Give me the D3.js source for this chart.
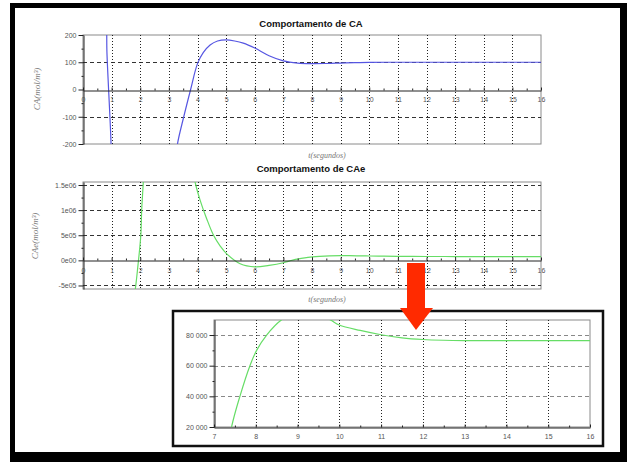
<!DOCTYPE html>
<html><head><meta charset="utf-8">
<script src="https://cdn.jsdelivr.net/npm/d3@7"></script>
<style>body{margin:0;background:#fff}svg{display:block}</style>
</head><body>
<script>
// ---- data (null = off-scale gap) ----
const caTime   = [0.828, 0.83, 0.835, 0.98, 0.99, 2.0, 3.24, 3.3, 3.52, 3.76, 4.0, 4.2, 4.44, 4.7, 5.0, 5.3, 5.6, 6.0, 6.5, 7.0, 7.5, 8.0, 8.5, 9.0, 9.5, 10, 11, 12, 13, 14, 15, 16];
const caValues = [400, 200, 140, -200, -300, null, -260, -200, -100, 0, 95, 135, 163, 178, 182, 178, 170, 152, 124, 105, 97, 95, 95.5, 97, 98.5, 99.5, 100, 100, 100, 100, 100, 100];
const caeTime   = [1.75, 1.82, 1.92, 2.02, 2.05, 2.11, 2.15, 3.0, 3.86, 3.92, 4.09, 4.32, 4.56, 4.8, 5.02, 5.49, 6.01, 6.5, 7.0, 7.2, 7.42, 7.62, 7.86, 8.02, 8.26, 8.62, 9.0, 9.3, 9.78, 10.0, 10.5, 11.0, 11.5, 12, 12.5, 13, 14, 15, 16];
const caeValues = [-8e5, -6e5, -1e5, 5e5, 1e6, 1.6e6, 2.2e6, null, 1.75e6, 1.55e6, 1.2e6, 8.3e5, 5e5, 2.8e5, 1.3e5, -6.7e4, -1.3e5, -1.0e5, -4.7e4, -1.5e4, 20000, 40000, 60000, 70000, 80000, 90000, 95000, 96000, 90000, 86500, 83000, 80200, 78200, 77100, 76600, 76400, 76300, 76300, 76300];
const xTickValues = [0,1,2,3,4,5,6,7,8,9,10,11,12,13,14,15,16];
const xTickLabels = ["0","1","2","3","4","5","6","7","8","9","10","11","12","13","14","15","16"];
const caTickValues = [200, 100, 0, -100, -200];
const caTickLabels = ["200", "100", "0", "-100", "-200"];
const caeTickValues = [1.5e6, 1e6, 5e5, 0, -5e5];
const caeTickLabels = ["1.5e06", "1e06", "5e05", "0e00", "-5e05"];
const insetXValues = [7,8,9,10,11,12,13,14,15,16];
const insetXLabels = ["7","8","9","10","11","12","13","14","15","16"];
const insetYValues = [20000, 40000, 60000, 80000];
const insetYLabels = ["20 000", "40 000", "60 000", "80 000"];
const titles = ["Comportamento de CA", "Comportamento de CAe"];

// ---- drawing ----
const W = 627, H = 462;
const svg = d3.select("body").append("svg").attr("width", W).attr("height", H);
svg.append("rect").attr("width", W).attr("height", H).attr("fill", "#fff");

const FONT = "'Liberation Sans', Arial, sans-serif";
const SERIF = "'Liberation Serif', 'Times New Roman', serif";
const BLUE = "#5656e2", GREEN = "#66dd66";

function mid(arr){ const r=[]; for(let i=0;i<arr.length-1;i++) r.push((arr[i]+arr[i+1])/2); return r; }

function panel(o){
  const g = svg.append("g");
  const [x0,x1] = o.x.range(); const yb = o.frameBottom, yt = o.frameTop;
  g.append("rect").attr("x", x0).attr("y", yt).attr("width", x1-x0).attr("height", yb-yt)
    .attr("fill","none").attr("stroke", "#8a8a8a").attr("stroke-width",1);
  g.selectAll(".hg").data(o.hGrid).join("line")
    .attr("x1", x0).attr("x2", x1).attr("y1", d=>Math.round(o.y(d))+0.5).attr("y2", d=>Math.round(o.y(d))+0.5)
    .attr("stroke", o.hGridColor).attr("stroke-width",1).attr("stroke-dasharray","4,3");
  g.selectAll(".vg").data(o.vGrid).join("line")
    .attr("x1", d=>Math.round(o.x(d))+0.5).attr("x2", d=>Math.round(o.x(d))+0.5).attr("y1", yt).attr("y2", yb)
    .attr("stroke", "#222").attr("stroke-width",1).attr("stroke-dasharray","1,2");
  const id = "clip" + Math.random().toString(36).slice(2);
  svg.append("clipPath").attr("id", id).append("rect").attr("x", x0).attr("y", yt).attr("width", x1-x0).attr("height", yb-yt);
  const line = d3.line().defined(d=>d[1]!==null).x(d=>o.x(d[0])).y(d=>o.y(d[1])).curve(d3.curveCatmullRom.alpha(0.5));
  g.append("path").attr("clip-path", `url(#${id})`).datum(o.times.map((t,i)=>[t,o.values[i]]))
    .attr("d", line).attr("fill","none").attr("stroke", o.color).attr("stroke-width",1.2);
  const ya = g.append("g").attr("transform", `translate(${x0+0.5},0)`)
    .call(d3.axisLeft(o.y).tickValues(o.yTicks).tickFormat((d,i)=>o.yLabels[i]).tickSize(5).tickSizeOuter(0).tickPadding(2));
  g.append("g").attr("transform", `translate(${x0+0.5},0)`)
    .call(d3.axisLeft(o.y).tickValues(mid(o.yTicks)).tickFormat("").tickSize(2).tickSizeOuter(0))
    .select(".domain").remove();
  const xa = g.append("g").attr("transform", `translate(0,${Math.round(o.y(o.xAxisAt))+0.5})`)
    .call(d3.axisBottom(o.x).tickValues(o.xTicks).tickFormat((d,i)=>o.xLabels[i]).tickSize(-3).tickSizeOuter(0).tickPadding(o.xPad));
  g.append("g").attr("transform", `translate(0,${Math.round(o.y(o.xAxisAt))+0.5})`)
    .call(d3.axisBottom(o.x).tickValues(mid(o.xTicks)).tickFormat("").tickSize(-2).tickSizeOuter(0))
    .select(".domain").remove();
  [ya, xa].forEach(a=>{
    a.selectAll("text").attr("font-family", FONT).attr("font-size", 7).attr("fill", "#555");
    a.select(".domain").attr("stroke","#222");
  });
  svg.selectAll("g .tick line").attr("stroke","#222");
  return g;
}

// Chart 1
const xA = d3.scaleLinear([0,16],[83,541]);
const yA = d3.scaleLinear([-200,200],[144,35]);
panel({x:xA, y:yA, frameTop:35, frameBottom:144, hGrid:[100,-100], hGridColor:"#333",
  vGrid:xTickValues.slice(1,16), times:caTime, values:caValues, color:BLUE,
  yTicks:caTickValues, yLabels:caTickLabels, xTicks:xTickValues, xLabels:xTickLabels, xAxisAt:0, xPad:7});

// Chart 2
const xB = d3.scaleLinear([0,16],[83,541]);
const yB = d3.scaleLinear([-5.7e5,1.56e6],[289,182]);
panel({x:xB, y:yB, frameTop:182, frameBottom:289, hGrid:[1.5e6,1e6,5e5,-5e5], hGridColor:"#333",
  vGrid:xTickValues.slice(1,16), times:caeTime, values:caeValues, color:GREEN,
  yTicks:caeTickValues, yLabels:caeTickLabels, xTicks:xTickValues, xLabels:xTickLabels, xAxisAt:0, xPad:8});

// Titles
svg.selectAll(".title").data(titles).join("text")
  .attr("x", 311).attr("y", (d,i)=> i===0 ? 27 : 172).attr("text-anchor","middle")
  .attr("font-family", FONT).attr("font-weight","bold").attr("font-size", 9.5).attr("fill","#111").text(d=>d);

// Axis titles
[158, 302].forEach(yy=>{
  svg.append("text").attr("x", 327).attr("y", yy).attr("text-anchor","middle")
    .attr("font-family", SERIF).attr("font-style","italic").attr("font-size", 8).attr("fill","#777").text("t(segundos)");
});
[["CA(mol/m³)", 40, 89], ["CAe(mol/m³)", 38, 236]].forEach(([t,xx,yy])=>{
  svg.append("text").attr("transform", `translate(${xx},${yy}) rotate(-90)`).attr("text-anchor","middle")
    .attr("font-family", SERIF).attr("font-style","italic").attr("font-size", 9).attr("fill","#777").text(t);
});

// Inset
svg.append("rect").attr("x",173).attr("y",311).attr("width",430).attr("height",135)
  .attr("fill","#fff").attr("stroke","#111").attr("stroke-width",2.5);
const xI = d3.scaleLinear([7,16],[214,590]);
const yI = d3.scaleLinear([20000,90000],[427,319.7]);
panel({x:xI, y:yI, frameTop:320, frameBottom:427, hGrid:[40000,60000,80000], hGridColor:"#888",
  vGrid:insetXValues.slice(1,9), times:caeTime, values:caeValues, color:GREEN,
  yTicks:insetYValues, yLabels:insetYLabels, xTicks:insetXValues, xLabels:insetXLabels, xAxisAt:20000, xPad:7});

// Red arrow
svg.append("rect").attr("x", 407).attr("y", 263).attr("width", 18).attr("height", 46).attr("fill", "#ff2a00");
svg.append("path").attr("d", d3.line()([[400,308],[433,308],[416,330]]) + "Z").attr("fill", "#ff2a00");

// Outer frame
[[10,3,617,5],[10,3,5,459],[620,3,7,459],[10,452,617,10]].forEach(([x,y,w,h])=>{
  svg.append("rect").attr("x",x).attr("y",y).attr("width",w).attr("height",h).attr("fill","#000");
});
</script>
</body></html>
